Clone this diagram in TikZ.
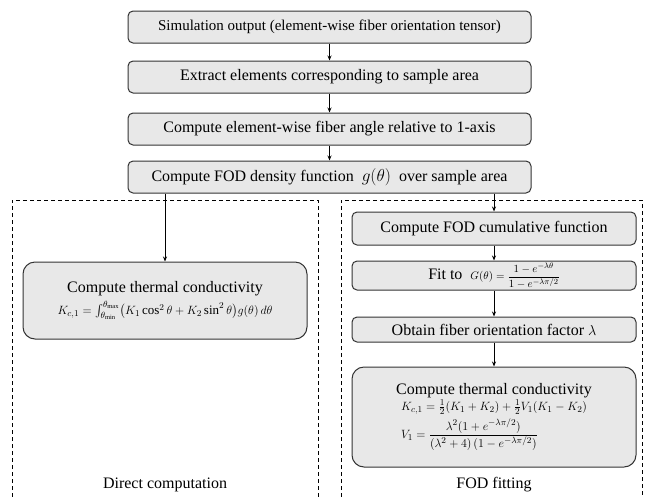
\documentclass[tikz,border=0pt]{standalone}
\usepackage{amsmath}
\usepackage{fontspec}
\setmainfont{Liberation Serif}
\usetikzlibrary{arrows.meta}

\newcommand{\eqsize}{\fontsize{13}{15}\selectfont}

\tikzset{
  procbox/.style={rectangle, rounded corners=5pt, draw=black!80, fill=black!9,
    line width=1pt, align=center, inner sep=2pt,
    font=\fontsize{16}{18}\selectfont},
  calcbox/.style={procbox, rounded corners=12pt},
  arr/.style={->, >={Stealth[length=5pt,width=4pt]}, line width=0.8pt},
  dashbox/.style={line width=0.8pt, dash pattern=on 4pt off 3pt},
  caption/.style={font=\fontsize{16}{18}\selectfont}
}

\begin{document}
\begin{tikzpicture}[x=1pt,y=-1pt]
\useasboundingbox (0,0) rectangle (645,496);

% main chain
\node[procbox, minimum width=403pt, minimum height=32pt, font=\fontsize{15}{17}\selectfont] (sim) at (329.5,27)
  {Simulation output (element-wise fiber orientation tensor)};
\node[procbox, minimum width=403pt, minimum height=32pt] (extract) at (329.5,77)
  {Extract elements corresponding to sample area};
\node[procbox, minimum width=403pt, minimum height=32pt] (angle) at (329.5,129)
  {Compute element-wise fiber angle relative to 1-axis};
\node[procbox, minimum width=403pt, minimum height=32pt] (density) at (329.5,177)
  {Compute FOD density function \ $g(\theta)$ \ over sample area};

% the two branches
\draw[dashbox] (12,497) -- (12,200) -- (318,200) -- (318,497);
\draw[dashbox] (341,497) -- (341,200) -- (642,200) -- (642,497);

\node[calcbox, minimum width=284pt, minimum height=77pt] (direct) at (165,300.5)
  {Compute thermal conductivity\\[4pt]
   {\eqsize $K_{c,1}=\int_{\theta_{\mathrm{min}}}^{\theta_{\mathrm{max}}}\bigl(K_1\cos^2\theta+K_2\sin^2\theta\bigr)g(\theta)\,d\theta$}};

\node[procbox, minimum width=284pt, minimum height=33pt] (cumul) at (494,228.5)
  {Compute FOD cumulative function};
\node[procbox, minimum width=284pt, minimum height=29pt, inner sep=1pt] (fit) at (494,275.5)
  {Fit to \ {\fontsize{11}{13}\selectfont $G(\theta)=\dfrac{1-e^{-\lambda\theta}}{1-e^{-\lambda\pi/2}}$}};
\node[procbox, minimum width=284pt, minimum height=25pt] (obtain) at (494,329.5)
  {Obtain fiber orientation factor {\Large $\lambda$}};
\node[calcbox, minimum width=284pt, minimum height=100pt] (fodcond) at (494,417)
  {Compute thermal conductivity\\[1pt]
   {\eqsize\begin{tabular}{@{}l@{}}
   $K_{c,1}=\tfrac{1}{2}(K_1+K_2)+\tfrac{1}{2}V_1(K_1-K_2)$\\[4pt]
   $V_1=\dfrac{\lambda^2(1+e^{-\lambda\pi/2})}{(\lambda^2+4)\,(1-e^{-\lambda\pi/2})}$
   \end{tabular}}};

\node[caption] (dirlabel) at (165,485) {Direct computation};
\node[caption] (fitlabel) at (494,485) {FOD fitting};

% connectors
\draw[arr] (sim) -- (extract);
\draw[arr] (extract) -- (angle);
\draw[arr] (angle) -- (density);
\draw[arr] (density.south -| direct.north) -- (direct);
\draw[arr] (density.south -| cumul.north) -- (cumul);
\draw[arr] (cumul) -- (fit);
\draw[arr] (fit) -- (obtain);
\draw[arr] (obtain) -- (fodcond);

\end{tikzpicture}
\end{document}
